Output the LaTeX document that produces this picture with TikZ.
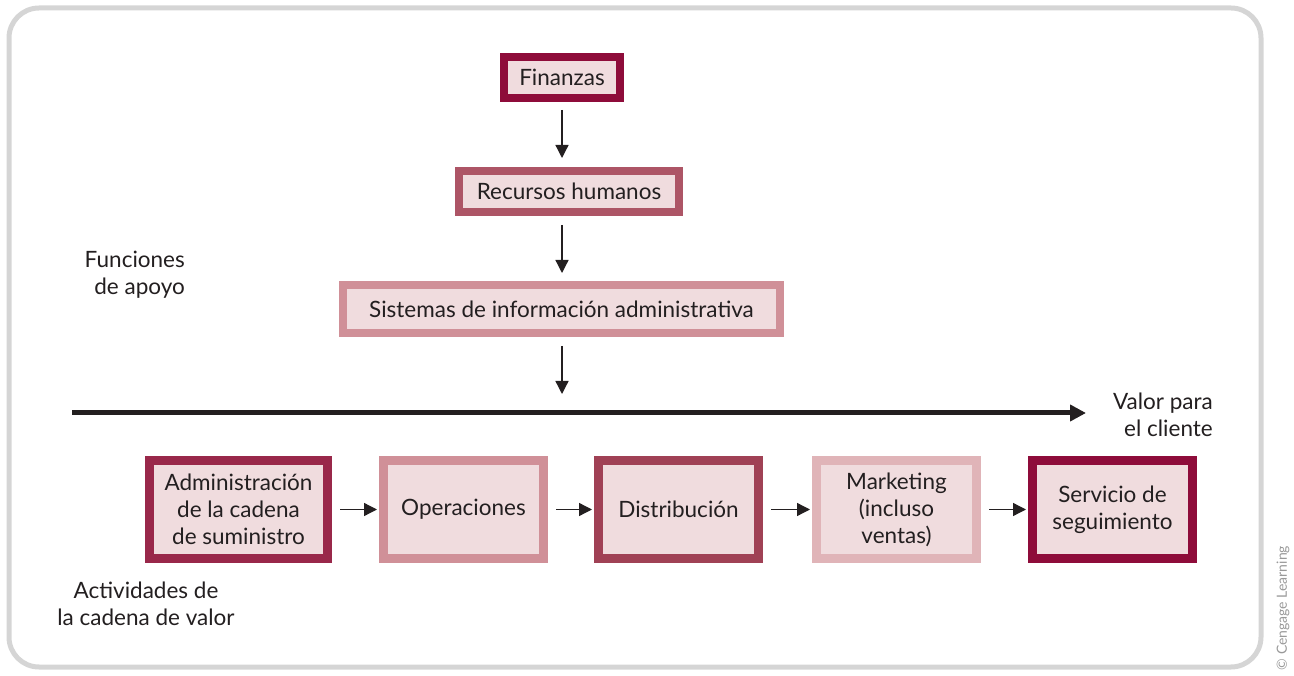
\documentclass[tikz,border=0pt]{standalone}
\usepackage{fontspec}
\setmainfont{Lato}
\usetikzlibrary{arrows.meta}
\definecolor{frame}{HTML}{D5D5D5}
\definecolor{boxfill}{HTML}{F0DCDE}
\definecolor{cA}{HTML}{8E0C3A}
\definecolor{cB}{HTML}{99284A}
\definecolor{cC}{HTML}{AD5566}
\definecolor{cD}{HTML}{A04155}
\definecolor{cE}{HTML}{D09098}
\definecolor{cF}{HTML}{E0B4B8}
\definecolor{ink}{HTML}{231F20}
\tikzset{
  box/.style={draw=#1, line width=8pt, fill=boxfill, inner sep=0pt, align=center, text=ink, font=\fontsize{22.5}{27}\selectfont},
  lbl/.style={text=ink, font=\fontsize{22.5}{27}\selectfont, inner sep=0pt},
  arr/.style={draw=ink, line width=1.3pt, -{Triangle[length=13pt,width=13pt]}},
}
\begin{document}
\begin{tikzpicture}[x=1pt,y=-1pt]
\useasboundingbox (0,0) rectangle (1294,676);
\draw[frame, line width=5pt, rounded corners=30pt] (9,8) rectangle (1261,667);
% support functions
\node[box=cA, minimum width=116pt, minimum height=41pt] (fin) at (562,77.5) {Finanzas};
\node[box=cC, minimum width=220pt, minimum height=41pt] (rh) at (569,191.5) {Recursos humanos};
\node[box=cE, minimum width=437pt, minimum height=48pt] (sia) at (561.5,309) {Sistemas de información administrativa};
\coordinate (l0) at (72,413);
\coordinate (l1) at (1086,413);
\coordinate (lt) at (562,413);
\draw[arr, shorten <=8pt, shorten >=9pt] (fin.south) -- (rh.north -| fin.south);
\draw[arr, shorten <=9pt, shorten >=8pt] (rh.south -| fin.south) -- (sia.north -| fin.south);
\draw[arr, shorten <=9pt, shorten >=19pt] (sia.south -| lt) -- (lt);
\draw[draw=ink, line width=5pt, -{Triangle[length=16pt,width=16pt]}] (l0) -- (l1);
\node[lbl, anchor=east, align=right] (fa) at (185,275) {Funciones\\de apoyo};
\node[lbl, anchor=east, align=right] (vc) at (1213,415) {Valor para\\el cliente};
% value chain
\node[box=cB, line width=9pt, minimum width=178pt, minimum height=98pt] (adm) at (238.5,509.5) {Administración\\de la cadena\\de suministro};
\node[box=cE, line width=9pt, minimum width=160pt, minimum height=98pt] (ope) at (463.5,509.5) {Operaciones};
\node[box=cD, line width=9pt, minimum width=160pt, minimum height=98pt] (dis) at (678.5,509.5) {Distribución};
\node[box=cF, line width=9pt, minimum width=160pt, minimum height=98pt] (mar) at (896.5,509.5) {Marketing\\(incluso\\ventas)};
\node[box=cA, line width=9pt, minimum width=160pt, minimum height=98pt] (ser) at (1112.5,509.5) {Servicio de\\seguimiento};
\foreach \a/\b in {adm/ope, ope/dis, dis/mar, mar/ser}
  \draw[arr, shorten <=8pt, shorten >=2pt] (\a.east) -- (\b.west);
\node[lbl, align=center] (act) at (146,604) {Actividades de\\la cadena de valor};
\node[text=gray!80, rotate=90, font=\fontsize{14}{16}\selectfont, inner sep=0pt] (cr) at (1283,608) {© Cengage Learning};
\end{tikzpicture}
\end{document}
